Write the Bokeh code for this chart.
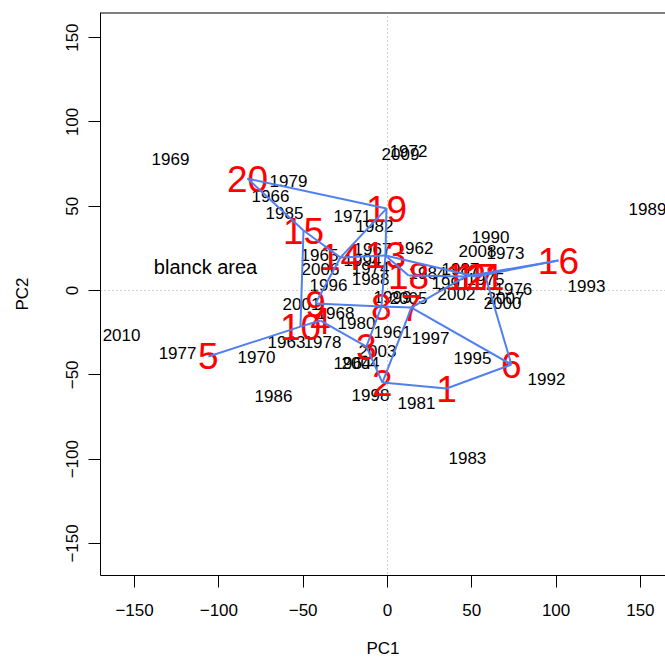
from bokeh.plotting import figure
from bokeh.models import ColumnDataSource, Span, FixedTicker, Range1d, Label
from bokeh.core.properties import value
from bokeh.embed import file_html
from bokeh.resources import INLINE

# ---- data ----
years = [str(y) for y in range(1961, 2011)]
year_pc1 = [3.0, 16.0, -59.9, -20.8, -40.3, -69.4, -8.9, -30.8, -128.7, -77.7,
            -20.8, 12.5, 70.0, -10.0, 58.1, 74.7, -124.5, -38.5, -58.7, -18.4,
            17.2, -7.7, 47.4, 23.7, -61.1, -67.6, 43.3, -10.0, 154.2, 61.1,
            37.4, 94.3, 118.0, -14.8, 50.4, -35.0, 25.5, -10.1, 3.0, 68.2,
            -51.0, 40.9, -5.9, -16.0, 12.5, -39.7, 70.0, 53.4, 7.7, -157.7]
year_pc2 = [-24.3, 25.5, -30.8, -42.7, 20.8, 56.3, 24.9, -13.6, 78.3, -39.7,
            44.5, 83.0, 22.0, 13.6, 7.1, 1.2, -36.8, -30.8, 65.2, -19.0,
            -66.4, 38.0, -99.6, 10.7, 45.7, -62.3, 13.0, 7.1, 48.6, 32.0,
            4.2, -52.2, 2.4, 18.4, -40.3, 3.0, -27.9, -61.7, -3.6, -7.1,
            -7.7, -1.8, -35.6, -42.7, -4.2, 13.0, -4.2, 23.7, 81.2, -26.1]

groups = [str(i) for i in range(1, 21)]
group_pc1 = [35.0, -3.0, -12.5, -39.7, -106.2, 73.5, 14.2, -3.6, -42.7, -51.6,
             58.1, 46.3, -1.2, -27.9, -49.8, 101.4, 52.2, 12.5, -0.6, -83.0]
group_pc2 = [-58.1, -54.6, -33.2, -17.8, -39.1, -43.9, -10.1, -9.5, -7.7, -21.4,
             8.3, 8.3, 20.8, 19.6, 35.6, 17.8, 8.3, 8.9, 48.6, 66.4]

edge_from = [20, 20, 15, 15, 19, 19, 14, 14, 13, 13, 13, 18, 9, 8, 8, 4, 5, 10,
             3, 7, 2, 1, 7, 6, 7, 16, 16]
edge_to = [19, 15, 14, 10, 14, 13, 13, 9, 8, 17, 18, 12, 8, 7, 3, 3, 10, 4,
           2, 2, 1, 6, 6, 11, 12, 12, 17]

ticks = [-150, -100, -50, 0, 50, 100, 150]
x_lim = (-170.2, 164.9)
y_lim = (-169.0, 164.9)

FONT = "Liberation Sans"

p = figure(width=665, height=663, output_backend="svg", toolbar_location=None,
           x_range=Range1d(*x_lim), y_range=Range1d(*y_lim),
           min_border_left=100, min_border_top=12, min_border_right=0,
           min_border_bottom=88)
p.grid.visible = False
p.outline_line_color = None
p.background_fill_color = "white"
p.border_fill_color = "white"

for ax in (p.xaxis, p.yaxis):
    ax.ticker = FixedTicker(ticks=ticks)
    ax.minor_tick_line_color = None
    ax.major_tick_in = 0
    ax.major_tick_out = 12
    ax.axis_line_color = "black"
    ax.major_tick_line_color = "black"
    ax.major_label_text_font = FONT
    ax.major_label_text_font_size = "17px"
    ax.major_label_text_color = "black"
    ax.axis_label_text_font = FONT
    ax.axis_label_text_font_size = "17px"
    ax.axis_label_text_font_style = "normal"
    ax.axis_label_text_color = "black"

p.xaxis.axis_label = "PC1"
p.yaxis.axis_label = "PC2"
p.xaxis.major_label_standoff = 16
p.xaxis.axis_label_standoff = 20
p.yaxis.major_label_standoff = 10
p.yaxis.axis_label_standoff = 32
p.yaxis.major_label_orientation = "vertical"

# top border of the box
p.add_layout(Span(location=y_lim[1], dimension="width", line_color="black", line_width=2))

# dotted zero lines
p.add_layout(Span(location=0, dimension="width", line_color="#a0a0a0", line_dash="1 3", line_width=1))
p.add_layout(Span(location=0, dimension="height", line_color="#a0a0a0", line_dash="1 3", line_width=1))

ysrc = ColumnDataSource(dict(x=year_pc1, y=year_pc2, t=years))
p.text(x="x", y="y", text="t", source=ysrc, text_align="center", text_baseline="middle",
       text_font=value(FONT), text_font_size="17px", text_color="black")

gsrc = ColumnDataSource(dict(x=group_pc1, y=group_pc2, t=groups))
p.text(x="x", y="y", text="t", source=gsrc, text_align="center", text_baseline="middle",
       text_font=value(FONT), text_font_size="37px", text_color="#ff0000")

idx = {int(g): i for i, g in enumerate(groups)}
esrc = ColumnDataSource(dict(
    x0=[group_pc1[idx[a]] for a in edge_from], y0=[group_pc2[idx[a]] for a in edge_from],
    x1=[group_pc1[idx[b]] for b in edge_to], y1=[group_pc2[idx[b]] for b in edge_to]))
p.segment(x0="x0", y0="y0", x1="x1", y1="y1", source=esrc, line_color="#5080f0", line_width=2)

p.add_layout(Label(x=-107.9, y=14.2, text="blanck area", text_align="center",
                   text_baseline="middle", text_font=FONT, text_font_size="20px",
                   text_color="black"))

open("out.html", "w").write(file_html(p, INLINE))
